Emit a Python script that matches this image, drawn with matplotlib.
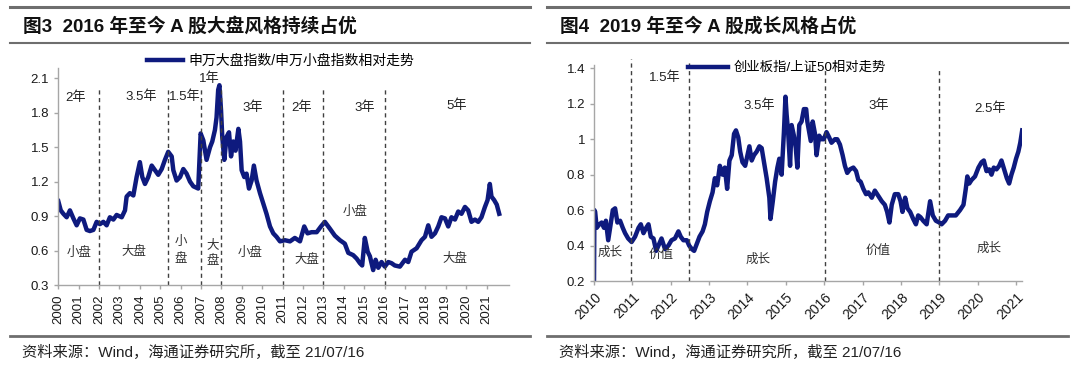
import matplotlib.pyplot as plt
from matplotlib.lines import Line2D

plt.rcParams['font.family'] = ['Liberation Sans', 'Noto Sans CJK SC', 'DejaVu Sans']

# 图3: 申万大盘指数/申万小盘指数相对走势
big_small_years = [
    2000.00, 2000.12, 2000.25, 2000.41, 2000.57, 2000.74, 2000.90, 2001.06, 2001.23, 2001.39,
    2001.55, 2001.72, 2001.88, 2002.04, 2002.21, 2002.37, 2002.53, 2002.70, 2002.86, 2003.11,
    2003.27, 2003.35, 2003.51, 2003.68, 2003.84, 2004.00, 2004.12, 2004.25, 2004.41, 2004.58,
    2004.74, 2004.90, 2005.07, 2005.23, 2005.39, 2005.56, 2005.64, 2005.80, 2005.97, 2006.13,
    2006.29, 2006.46, 2006.62, 2006.86, 2006.98, 2007.11, 2007.27, 2007.44, 2007.55, 2007.68,
    2007.76, 2007.84, 2007.90, 2007.98, 2008.04, 2008.14, 2008.25, 2008.37, 2008.47, 2008.58,
    2008.69, 2008.83, 2008.91, 2008.99, 2009.12, 2009.23, 2009.35, 2009.48, 2009.59, 2009.72,
    2009.89, 2010.05, 2010.21, 2010.38, 2010.54, 2010.70, 2010.87, 2011.11, 2011.36, 2011.60,
    2011.85, 2012.06, 2012.22, 2012.42, 2012.67, 2012.88, 2013.07, 2013.32, 2013.56, 2013.81,
    2014.05, 2014.22, 2014.46, 2014.63, 2014.79, 2014.90, 2015.03, 2015.17, 2015.28, 2015.44,
    2015.56, 2015.69, 2015.85, 2016.01, 2016.18, 2016.34, 2016.50, 2016.75, 2017.00, 2017.16,
    2017.32, 2017.57, 2017.81, 2017.98, 2018.14, 2018.30, 2018.47, 2018.63, 2018.79, 2018.96,
    2019.12, 2019.28, 2019.45, 2019.61, 2019.77, 2019.94, 2020.10, 2020.26, 2020.43, 2020.59,
    2020.75, 2020.92, 2021.05, 2021.16, 2021.24, 2021.37, 2021.50, 2021.62,
]
big_small_ratio = [
    1.03, 0.95, 0.92, 0.89, 0.95, 0.88, 0.82, 0.88, 0.87, 0.78,
    0.77, 0.78, 0.85, 0.83, 0.85, 0.82, 0.89, 0.87, 0.91, 0.89,
    0.95, 1.07, 1.10, 1.08, 1.24, 1.37, 1.24, 1.18, 1.24, 1.34,
    1.30, 1.26, 1.31, 1.39, 1.46, 1.42, 1.30, 1.21, 1.24, 1.31,
    1.27, 1.20, 1.16, 1.14, 1.62, 1.56, 1.39, 1.50, 1.55, 1.65,
    1.76, 2.00, 2.04, 1.82, 1.59, 1.39, 1.59, 1.63, 1.42, 1.55,
    1.47, 1.66, 1.55, 1.30, 1.24, 1.27, 1.14, 1.21, 1.34, 1.21,
    1.10, 1.01, 0.92, 0.81, 0.75, 0.72, 0.68, 0.69, 0.68, 0.71,
    0.68, 0.81, 0.75, 0.76, 0.76, 0.81, 0.85, 0.79, 0.73, 0.69,
    0.66, 0.58, 0.56, 0.53, 0.49, 0.47, 0.71, 0.59, 0.55, 0.43,
    0.52, 0.45, 0.50, 0.46, 0.50, 0.49, 0.47, 0.46, 0.52, 0.50,
    0.59, 0.62, 0.69, 0.72, 0.82, 0.72, 0.75, 0.81, 0.89, 0.88,
    0.81, 0.89, 0.87, 0.94, 0.92, 0.98, 0.95, 0.85, 0.87, 0.85,
    0.89, 0.98, 1.04, 1.18, 1.07, 1.04, 1.00, 0.92,
]

# 图4: 创业板指/上证50相对走势
growth_years = [
    2010.00, 2010.01, 2010.03, 2010.07, 2010.14, 2010.20, 2010.26, 2010.31, 2010.37, 2010.42,
    2010.49, 2010.55, 2010.61, 2010.68, 2010.75, 2010.81, 2010.89, 2010.98, 2011.07, 2011.16,
    2011.22, 2011.29, 2011.36, 2011.42, 2011.48, 2011.55, 2011.62, 2011.68, 2011.76, 2011.85,
    2011.94, 2012.02, 2012.11, 2012.20, 2012.26, 2012.33, 2012.42, 2012.48, 2012.55, 2012.61,
    2012.68, 2012.75, 2012.83, 2012.89, 2012.95, 2013.02, 2013.09, 2013.15, 2013.21, 2013.28,
    2013.35, 2013.41, 2013.47, 2013.53, 2013.59, 2013.65, 2013.70, 2013.76, 2013.81, 2013.87,
    2013.94, 2014.00, 2014.05, 2014.11, 2014.17, 2014.24, 2014.31, 2014.37, 2014.43, 2014.50,
    2014.57, 2014.60, 2014.66, 2014.72, 2014.78, 2014.83, 2014.89, 2014.95, 2014.99, 2015.02,
    2015.06, 2015.11, 2015.15, 2015.21, 2015.26, 2015.30, 2015.35, 2015.41, 2015.47, 2015.53,
    2015.56, 2015.61, 2015.65, 2015.70, 2015.76, 2015.80, 2015.87, 2015.93, 2015.99, 2016.06,
    2016.13, 2016.19, 2016.28, 2016.34, 2016.41, 2016.48, 2016.54, 2016.60, 2016.67, 2016.76,
    2016.83, 2016.89, 2016.95, 2017.02, 2017.09, 2017.15, 2017.24, 2017.32, 2017.41, 2017.50,
    2017.58, 2017.64, 2017.70, 2017.76, 2017.84, 2017.93, 2017.99, 2018.04, 2018.11, 2018.17,
    2018.24, 2018.32, 2018.39, 2018.45, 2018.51, 2018.58, 2018.67, 2018.76, 2018.83, 2018.91,
    2019.00, 2019.06, 2019.15, 2019.23, 2019.32, 2019.43, 2019.54, 2019.63, 2019.69, 2019.73,
    2019.78, 2019.84, 2019.93, 2020.02, 2020.10, 2020.16, 2020.23, 2020.30, 2020.36, 2020.42,
    2020.49, 2020.56, 2020.62, 2020.69, 2020.76, 2020.82, 2020.88, 2020.94, 2021.00, 2021.06,
    2021.11, 2021.16,
]
growth_ratio = [
    0.20, 0.60, 0.59, 0.50, 0.52, 0.53, 0.50, 0.54, 0.43, 0.50,
    0.60, 0.61, 0.53, 0.54, 0.50, 0.47, 0.44, 0.42, 0.45, 0.50,
    0.52, 0.47, 0.50, 0.52, 0.45, 0.44, 0.37, 0.40, 0.44, 0.38,
    0.40, 0.43, 0.44, 0.48, 0.45, 0.43, 0.43, 0.40, 0.38, 0.37,
    0.41, 0.45, 0.48, 0.52, 0.59, 0.65, 0.70, 0.78, 0.74, 0.85,
    0.80, 0.84, 0.72, 0.88, 0.91, 1.03, 1.05, 1.01, 0.93, 0.87,
    0.85, 0.91, 0.96, 0.88, 0.91, 0.93, 0.96, 0.95, 0.87, 0.78,
    0.67, 0.55, 0.65, 0.76, 0.84, 0.89, 0.80, 1.04, 1.24, 1.14,
    1.04, 0.85, 1.08, 1.02, 0.95, 0.84, 1.08, 1.10, 1.17, 1.17,
    1.10, 1.04, 0.99, 1.10, 1.03, 0.91, 1.02, 1.00, 1.00, 1.04,
    1.01, 0.98, 1.00, 1.00, 0.97, 0.91, 0.85, 0.81, 0.83, 0.84,
    0.82, 0.77, 0.76, 0.72, 0.69, 0.70, 0.67, 0.71, 0.68, 0.65,
    0.63, 0.59, 0.53, 0.63, 0.69, 0.69, 0.65, 0.59, 0.67, 0.61,
    0.59, 0.55, 0.52, 0.57, 0.56, 0.54, 0.52, 0.65, 0.57, 0.54,
    0.53, 0.52, 0.54, 0.57, 0.57, 0.57, 0.60, 0.63, 0.72, 0.79,
    0.75, 0.77, 0.79, 0.84, 0.87, 0.88, 0.82, 0.83, 0.80, 0.84,
    0.83, 0.85, 0.88, 0.83, 0.78, 0.75, 0.80, 0.84, 0.89, 0.93,
    0.98, 1.05,
]

left_ticks = list(range(2000, 2022))
left_yticks = [0.3, 0.6, 0.9, 1.2, 1.5, 1.8, 2.1]
left_ylabels = ['0.3', '0.6', '0.9', '1.2', '1.5', '1.8', '2.1']
left_splits = [2002, 2005.4, 2007, 2008, 2011, 2013, 2016]
left_durations = ['2年', '3.5年', '1.5年', '1年', '3年', '2年', '3年', '5年']
left_styles = ['小盘', '大盘', '小\n盘', '大\n盘', '小盘', '大盘', '小盘', '大盘']

right_ticks = list(range(2010, 2022))
right_yticks = [0.2, 0.4, 0.6, 0.8, 1.0, 1.2, 1.4]
right_ylabels = ['0.2', '0.4', '0.6', '0.8', '1', '1.2', '1.4']
right_splits = [2010.96, 2012.48, 2016.02, 2019.0]
right_durations = ['1.5年', '3.5年', '3年', '2.5年']
right_styles = ['成长', '价值', '成长', '价值', '成长']

LINE = '#0E1A7E'
GRID = '#A6A6A6'
W, H = 1080, 368


def fx(px):
    return px / W


def fy(py):
    return 1 - py / H


def style_axes(ax):
    for s in ['top', 'right']:
        ax.spines[s].set_visible(False)
    for s in ['left', 'bottom']:
        ax.spines[s].set_color(GRID)
        ax.spines[s].set_linewidth(1)
    ax.tick_params(axis='both', colors=GRID, length=3, width=1, labelcolor='#1a1a1a')


def panel_frame(x0, x1, title, footer, tx):
    # horizontal rules, title and source line
    fig.add_artist(Line2D([fx(x0), fx(x1)], [fy(6.5)] * 2, color='#6e6e6e', lw=2.2))
    fig.add_artist(Line2D([fx(x0), fx(x1)], [fy(43)] * 2, color='#6e6e6e', lw=1.5))
    fig.add_artist(Line2D([fx(x0), fx(x1)], [fy(336)] * 2, color='#6e6e6e', lw=2.0))
    fig.text(fx(tx), fy(26), title, fontsize=13.5, fontweight='bold', va='center', color='#111111')
    fig.text(fx(tx - 1), fy(352), footer, fontsize=11, va='center', color='#222222')


fig = plt.figure(figsize=(10.8, 3.68), dpi=100)

# ---- 图3 ----
ax1 = fig.add_axes([fx(58.3), fy(285), fx(509 - 58.3), (285 - 68) / H])
ax1.plot(big_small_years, big_small_ratio, color=LINE, lw=3.2, solid_joinstyle='round',
         label='申万大盘指数/申万小盘指数相对走势')
ax1.set_xlim(2000, 2022.1)
ax1.set_ylim(0.3, 2.19)
ax1.set_yticks(left_yticks)
ax1.set_yticklabels(left_ylabels, fontsize=9.5)
ax1.set_xticks(left_ticks)
ax1.set_xticklabels([str(t) for t in left_ticks], rotation=90, fontsize=9.5)
style_axes(ax1)
ax1.vlines(left_splits, 0.3, 2.01, colors='#404040', lw=1, linestyles=(0, (3, 2.5)))

dur_pos = [(2000.85, 1.93), (2004.09, 1.94), (2006.21, 1.94), (2007.39, 2.10),
           (2009.56, 1.84), (2011.93, 1.84), (2015.02, 1.84), (2019.53, 1.86)]
for txt, (x, y) in zip(left_durations, dur_pos):
    ax1.text(x, y, txt, fontsize=9.5, ha='center', va='center', color='#222222', clip_on=False)
sty_pos = [(2001.01, 0.58), (2003.71, 0.59), (2006.01, 0.60), (2007.57, 0.58),
           (2009.4, 0.58), (2012.18, 0.52), (2014.56, 0.94), (2019.45, 0.53)]
for txt, (x, y) in zip(left_styles, sty_pos):
    ax1.text(x, y, txt, fontsize=9, ha='center', va='center', color='#333333',
             linespacing=1.5, fontweight='light')

ax1.legend(loc='center left', bbox_to_anchor=(fx(147), fy(61)), bbox_transform=fig.transFigure,
           frameon=False, fontsize=10, handlelength=2.6, handletextpad=0.4,
           borderpad=0, borderaxespad=0)
panel_frame(10, 530, '图3  2016 年至今 A 股大盘风格持续占优',
            '资料来源：Wind，海通证券研究所，截至 21/07/16', 23)

# ---- 图4 ----
ax2 = fig.add_axes([fx(594), fy(281), fx(1021.8 - 594), (281 - 64.8) / H])
ax2.plot(growth_years, growth_ratio, color=LINE, lw=3.2, solid_joinstyle='round',
         label='创业板指/上证50相对走势')
ax2.set_xlim(2010, 2021.15)
ax2.set_ylim(0.2, 1.42)
ax2.set_yticks(right_yticks)
ax2.set_yticklabels(right_ylabels, fontsize=9.5)
ax2.set_xticks(right_ticks)
ax2.set_xticklabels([str(t) for t in right_ticks], rotation=45, ha='right',
                    rotation_mode='anchor', fontsize=10)
style_axes(ax2)
split_tops = [1.45, 1.44, 1.39, 1.39]
for x, top in zip(right_splits, split_tops):
    ax2.vlines(x, 0.2, top, colors='#404040', lw=1, linestyles=(0, (3, 2.5)), clip_on=False)

rdur_pos = [(2011.85, 1.35), (2014.31, 1.19), (2017.41, 1.19), (2020.32, 1.17)]
for txt, (x, y) in zip(right_durations, rdur_pos):
    ax2.text(x, y, txt, fontsize=9.5, ha='center', va='center', color='#222222')
rsty_pos = [(2010.43, 0.36), (2011.76, 0.35), (2014.28, 0.32), (2017.41, 0.37), (2020.30, 0.38)]
for txt, (x, y) in zip(right_styles, rsty_pos):
    ax2.text(x, y, txt, fontsize=9, ha='center', va='center', color='#333333', fontweight='light')

ax2.legend(loc='center left', bbox_to_anchor=(fx(688), fy(68)), bbox_transform=fig.transFigure,
           frameon=False, fontsize=9.6, handlelength=3.0, handletextpad=0.4,
           borderpad=0, borderaxespad=0)
panel_frame(547, 1068, '图4  2019 年至今 A 股成长风格占优',
            '资料来源：Wind，海通证券研究所，截至 21/07/16', 560)

fig.savefig('out.png', dpi=100)
